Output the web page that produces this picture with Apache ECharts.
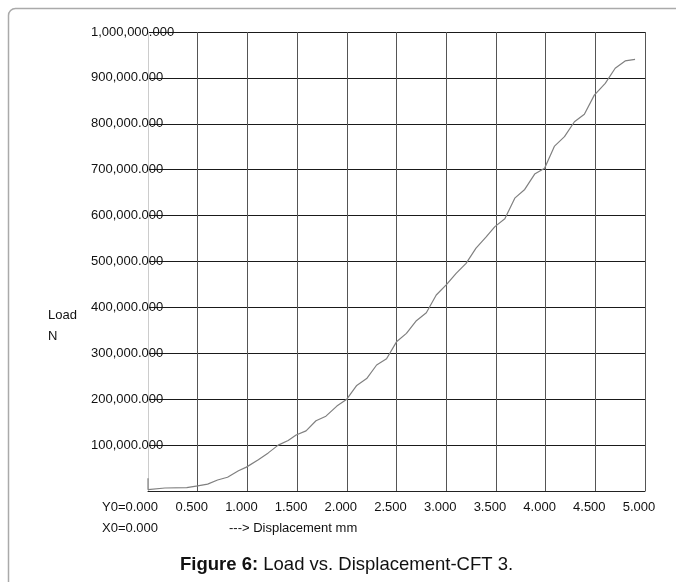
<!DOCTYPE html>
<html>
<head>
<meta charset="utf-8">
<script src="https://cdn.jsdelivr.net/npm/echarts@6/dist/echarts.min.js"></script>
<style>
  html, body { margin: 0; padding: 0; background: #fff; }
  #chart { width: 676px; height: 582px; }
</style>
</head>
<body>
<div id="chart"></div>
<script>
// Load–displacement record for specimen CFT 3
const displacement = [0.00, 0.00, 0.17, 0.39, 0.50, 0.60, 0.70, 0.80, 0.91, 0.99,
  1.11, 1.21, 1.31, 1.41, 1.49, 1.59, 1.69, 1.79, 1.90, 2.00,
  2.10, 2.20, 2.30, 2.40, 2.50, 2.60, 2.70, 2.80, 2.90, 3.00,
  3.10, 3.20, 3.30, 3.40, 3.49, 3.59, 3.69, 3.79, 3.89, 3.99,
  4.09, 4.19, 4.29, 4.39, 4.49, 4.60, 4.70, 4.80, 4.90];
const load = [28000, 3000, 6500, 7200, 11000, 15000, 24000, 30000, 44000, 52000,
  68000, 83000, 100000, 110000, 122000, 131000, 153000, 163000, 185000, 200000,
  230000, 245000, 274500, 288000, 325000, 343500, 371000, 388500, 427000, 449000,
  474000, 496000, 529000, 553000, 576000, 593000, 638000, 657000, 690500, 703000,
  751500, 772000, 804500, 821000, 862500, 888000, 921000, 937000, 940500];

const xTicks = { min: 0, max: 5, step: 0.5 };
const yTicks = { min: 0, max: 1000000, step: 100000 };

const yAxisName = ['Load', 'N'];
const originLabels = ['Y0=0.000', 'X0=0.000'];
const xAxisName = '---> Displacement mm';
const captionBold = 'Figure 6:';
const captionText = ' Load vs. Displacement-CFT 3.';

const FONT = '"Liberation Sans", Arial, Helvetica, sans-serif';

const chart = echarts.init(document.getElementById('chart'), null, { renderer: 'canvas' });

const points = displacement.map((d, i) => [d, load[i]]);

chart.setOption({
  animation: false,
  backgroundColor: '#ffffff',
  textStyle: { fontFamily: FONT },
  grid: { left: 148, right: 31, top: 32, bottom: 91, containLabel: false },
  xAxis: {
    type: 'value',
    min: xTicks.min, max: xTicks.max, interval: xTicks.step,
    axisLine: { show: true, onZero: false, lineStyle: { color: '#222', width: 1 } },
    axisTick: { show: false },
    splitLine: { show: true, lineStyle: { color: '#555', width: 1 } },
    axisLabel: {
      color: '#111', fontSize: 13, fontFamily: FONT, margin: 10,
      padding: [0, 12, 0, 0],
      formatter: v => (v === 0 ? '' : v.toFixed(3))
    }
  },
  yAxis: {
    type: 'value',
    min: yTicks.min, max: yTicks.max, interval: yTicks.step,
    axisLine: { show: true, lineStyle: { color: '#cccccc', width: 1 } },
    axisTick: { show: false },
    splitLine: { show: true, lineStyle: { color: '#1a1a1a', width: 1 } },
    axisLabel: {
      color: '#111', fontSize: 13, fontFamily: FONT,
      align: 'left', margin: 57,
      formatter: v => (v === 0 ? '' : v.toLocaleString('en-US') + '.000')
    }
  },
  series: [{
    type: 'line',
    data: points,
    symbol: 'none',
    lineStyle: { color: '#808080', width: 1.2 },
    z: 3
  }],
  graphic: [
    {
      type: 'rect', silent: true,
      shape: { x: 8.5, y: 8.5, width: 720, height: 640, r: 7 },
      style: { fill: null, stroke: '#aaaaaa', lineWidth: 1.5 }
    },
    { type: 'text', left: 48, top: 309, style: { text: yAxisName[0], font: '13px ' + FONT, fill: '#111' } },
    { type: 'text', left: 48, top: 330, style: { text: yAxisName[1], font: '13px ' + FONT, fill: '#111' } },
    { type: 'text', left: 102, top: 501, style: { text: originLabels[0], font: '13px ' + FONT, fill: '#111' } },
    { type: 'text', left: 102, top: 522, style: { text: originLabels[1], font: '13px ' + FONT, fill: '#111' } },
    { type: 'text', left: 229, top: 522, style: { text: xAxisName, font: '13px ' + FONT, fill: '#111' } },
    {
      type: 'text', left: 180, top: 555,
      style: {
        text: '{b|' + captionBold + '}{r|' + captionText + '}',
        rich: {
          b: { fontFamily: FONT, fontSize: 18.5, fontWeight: 'bold', fill: '#111' },
          r: { fontFamily: FONT, fontSize: 18.5, fill: '#111' }
        }
      }
    }
  ]
});
</script>
</body>
</html>
